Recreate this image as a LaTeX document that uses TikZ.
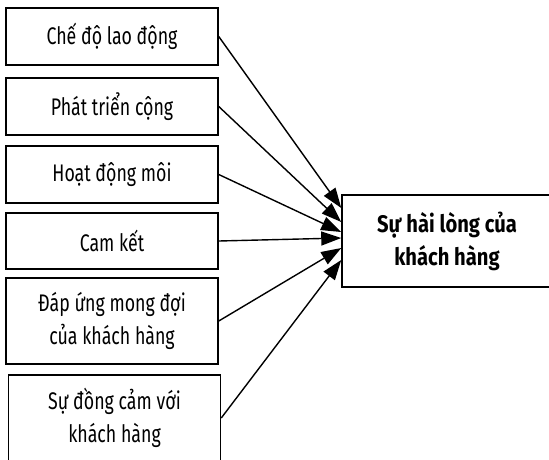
\documentclass[tikz,border=0pt]{standalone}
\usepackage{fontspec}
\setmainfont[FakeStretch=0.74, BoldFeatures={FakeStretch=0.84}]{Fira Sans}
\usetikzlibrary{arrows.meta}
\tikzset{
  factor/.style={draw, line width=1.5pt, minimum width=212pt, align=center,
    font=\fontsize{24}{33}\selectfont, inner sep=0pt},
  goal/.style={draw, line width=1.5pt, minimum width=210pt, minimum height=92pt,
    align=center, font=\fontsize{24}{33}\selectfont\bfseries, inner sep=0pt},
  link/.style={line width=1.4pt, -{Triangle[length=20pt,width=14pt]}}
}
\begin{document}
\begin{tikzpicture}[x=1pt,y=-1pt]
  \useasboundingbox (0,0) rectangle (549,459);
  \clip (0,0) rectangle (549,459);
  % influencing factors
  \node[factor, minimum height=57pt] (f1) at (112,36.5) {Chế độ lao động};
  \node[factor, minimum height=57pt] (f2) at (112,106.5) {Phát triển cộng};
  \node[factor, minimum height=57pt] (f3) at (112,174.5) {Hoạt động môi};
  \node[factor, minimum height=56pt] (f4) at (112,241) {Cam kết};
  \node[factor, minimum height=86pt] (f5) at (112,321) {Đáp ứng mong đợi\\của khách hàng};
  \node[factor, minimum height=86pt] (f6) at (114.5,418) {Sự đồng cảm với\\khách hàng};
  % outcome
  \node[goal] (g) at (447,241) {Sự hài lòng của\\khách hàng};
  % arrows into the outcome
  \draw[link] (f1.east) -- ([yshift=33pt]g.west);
  \draw[link] (f2.east) -- ([yshift=19pt]g.west);
  \draw[link] (f3.east) -- ([yshift=9pt]g.west);
  \draw[link] (f4.east) -- ([yshift=3pt]g.west);
  \draw[link] (f5.east) -- ([yshift=-7pt]g.west);
  \draw[link] (f6.east) -- ([yshift=-19pt]g.west);
\end{tikzpicture}
\end{document}
